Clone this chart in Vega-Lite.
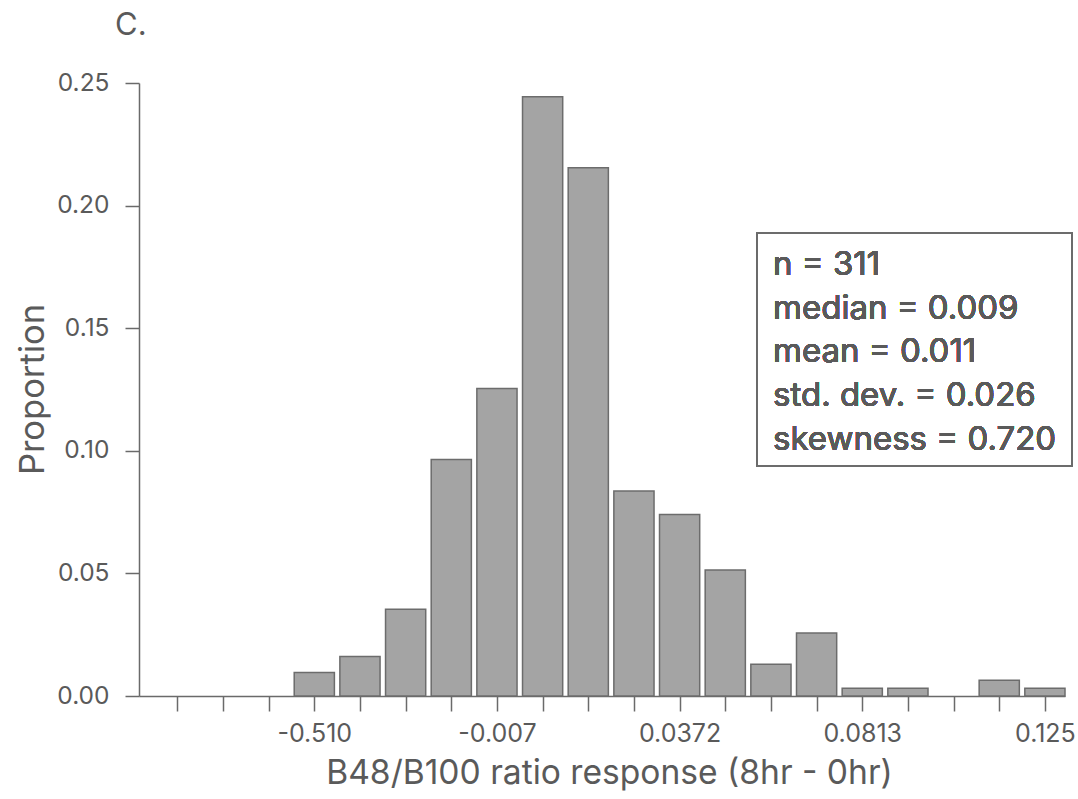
{
  "$schema": "https://vega.github.io/schema/vega-lite/v6.json",
  "width": 926,
  "height": 613,
  "autosize": "none",
  "padding": {"left": 139, "top": 83, "right": 13, "bottom": 103},
  "background": "white",
  "title": {
    "text": "C.",
    "anchor": "start",
    "frame": "group",
    "dx": -24,
    "offset": 28,
    "fontSize": 31,
    "font": "Inter",
    "fontWeight": "normal",
    "color": "#5a5a5a"
  },
  "config": {
    "view": {"stroke": null},
    "axis": {
      "labelFont": "Inter",
      "titleFont": "Inter",
      "labelColor": "#5a5a5a",
      "titleColor": "#5a5a5a",
      "domainColor": "#6a6a6a",
      "tickColor": "#6a6a6a",
      "domainWidth": 1.5,
      "tickWidth": 1.5,
      "grid": false,
      "titleFontWeight": "normal"
    }
  },
  "data": {
    "values": [
      {"bin": 4, "proportion": 0.0096},
      {"bin": 5, "proportion": 0.0161},
      {"bin": 6, "proportion": 0.0354},
      {"bin": 7, "proportion": 0.0965},
      {"bin": 8, "proportion": 0.1254},
      {"bin": 9, "proportion": 0.2444},
      {"bin": 10, "proportion": 0.2154},
      {"bin": 11, "proportion": 0.0836},
      {"bin": 12, "proportion": 0.0740},
      {"bin": 13, "proportion": 0.0514},
      {"bin": 14, "proportion": 0.0129},
      {"bin": 15, "proportion": 0.0257},
      {"bin": 16, "proportion": 0.0032},
      {"bin": 17, "proportion": 0.0032},
      {"bin": 18, "proportion": 0},
      {"bin": 19, "proportion": 0.0064},
      {"bin": 20, "proportion": 0.0032}
    ]
  },
  "layer": [
    {
      "transform": [
        {"filter": "datum.proportion > 0"},
        {"calculate": "datum.bin - 0.44", "as": "left"},
        {"calculate": "datum.bin + 0.44", "as": "right"}
      ],
      "mark": {"type": "rect", "fill": "#a4a4a4", "stroke": "#6c6c6c", "strokeWidth": 1.5},
      "encoding": {
        "x": {
          "field": "left",
          "type": "quantitative",
          "scale": {"domain": [0.161, 20.44], "nice": false, "zero": false},
          "axis": {
            "title": "B48/B100 ratio response (8hr - 0hr)",
            "titleFontSize": 33.6,
            "titleX": 470,
            "titleY": 87,
            "titleAlign": "center",
            "titleBaseline": "alphabetic",
            "values": [1, 2, 3, 4, 5, 6, 7, 8, 9, 10, 11, 12, 13, 14, 15, 16, 17, 18, 19, 20],
            "labelExpr": "datum.value == 4 ? '-0.510' : datum.value == 8 ? '-0.007' : datum.value == 12 ? '0.0372' : datum.value == 16 ? '0.0813' : datum.value == 20 ? '0.125' : ''",
            "labelFontSize": 25,
            "labelPadding": 10,
            "labelOverlap": false,
            "labelFlush": false,
            "tickSize": 15
          }
        },
        "x2": {"field": "right"},
        "y": {
          "field": "proportion",
          "type": "quantitative",
          "scale": {"domain": [0, 0.25], "nice": false},
          "axis": {
            "title": "Proportion",
            "titleFontSize": 34.5,
            "titleX": -96,
            "titleY": 306,
            "titleAngle": -90,
            "titleAlign": "center",
            "titleBaseline": "alphabetic",
            "values": [0, 0.05, 0.1, 0.15, 0.2, 0.25],
            "format": ".2f",
            "labelFontSize": 24.5,
            "labelPadding": 16,
            "tickSize": 14,
            "labelFlush": false
          }
        },
        "y2": {"datum": 0}
      }
    },
    {
      "mark": {"type": "rect", "fill": "white", "fillOpacity": 0, "stroke": "#6c6c6c", "strokeWidth": 1.3, "clip": false},
      "encoding": {
        "x": {"datum": 13.70, "type": "quantitative"},
        "x2": {"datum": 20.595},
        "y": {"datum": 0.1888, "type": "quantitative"},
        "y2": {"datum": 0.0938}
      }
    },
    {
      "mark": {
        "type": "text",
        "align": "left",
        "baseline": "alphabetic",
        "font": "Inter",
        "fontSize": 33,
        "lineHeight": 43.7,
        "color": "#5a5a5a"
      },
      "encoding": {
        "x": {"datum": 14.046, "type": "quantitative"},
        "y": {"datum": 0.1717, "type": "quantitative"},
        "text": {"value": ["n = 311", "median = 0.009", "mean = 0.011", "std. dev. = 0.026", "skewness = 0.720"]}
      }
    }
  ]
}
